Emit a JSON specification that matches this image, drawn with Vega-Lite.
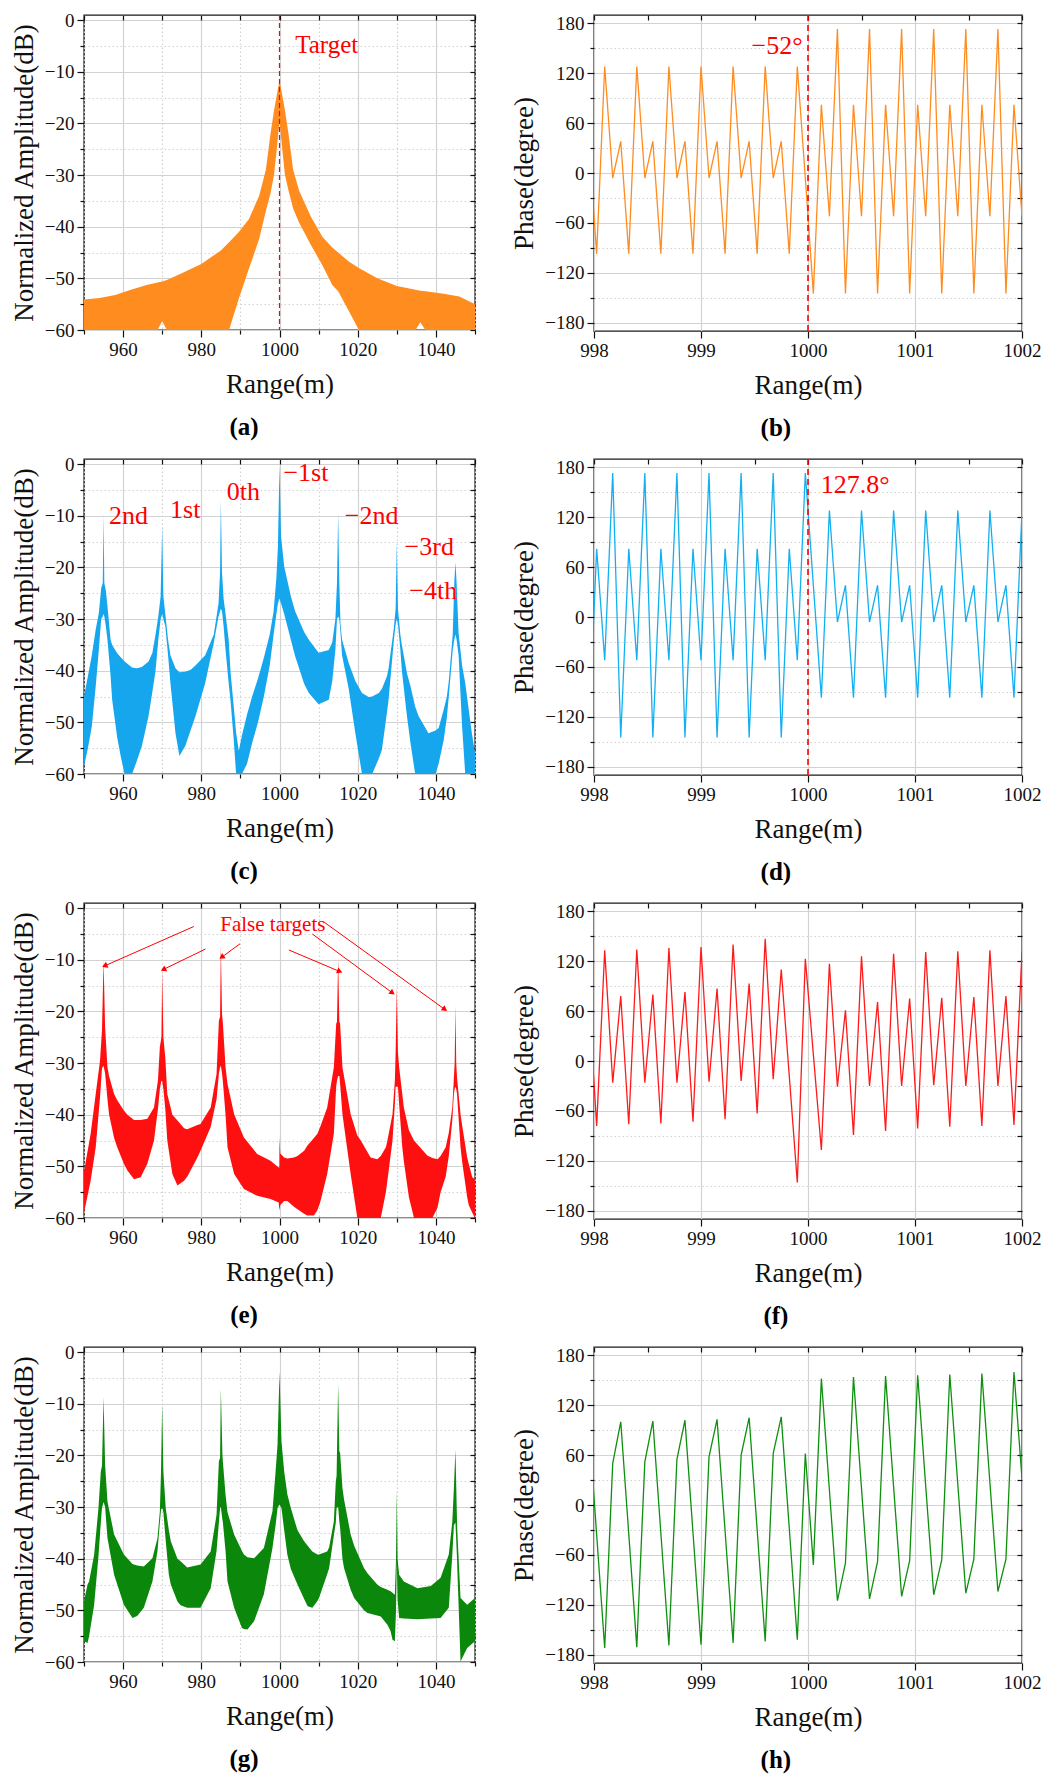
{
  "$schema": "https://vega.github.io/schema/vega-lite/v6.json",
  "background": "white",
  "padding": {"left": 9, "top": 10, "right": 0, "bottom": 0},
  "config": {
    "font": "Liberation Serif",
    "view": {"stroke": "#1a1a1a", "strokeWidth": 1.4},
    "style": {
      "guide-label": {"font": "Liberation Serif", "fontSize": 19, "fill": "#111"},
      "guide-title": {"font": "Liberation Serif", "fontSize": 27, "fill": "#111"}
    },
    "axis": {
      "labelFont": "Liberation Serif", "titleFont": "Liberation Serif",
      "labelFontSize": 19, "titleFontSize": 27, "titleFontWeight": "normal",
      "labelColor": "#111", "titleColor": "#111", "tickColor": "#111", "tickWidth": 1.2,
      "domain": false, "gridColor": "#d2d2d2", "gridWidth": 1.2,
      "labelOverlap": false, "labelFlush": false, "labelPadding": 3
    },
    "axisX": {"titlePadding": 12, "labelFont": "Liberation Serif"},
    "axisY": {"titlePadding": 6, "labelFont": "Liberation Serif"},
    "title": {"font": "Liberation Serif", "fontSize": 25, "fontWeight": "bold", "orient": "bottom", "anchor": "middle", "frame": "bounds", "offset": 18, "color": "#000"},
    "text": {"font": "Liberation Serif", "color": "#ff0000"}
  },
  "datasets": {
    "ampA": [
      {"x": 950, "hi": -54.1, "lo": -60}, {"x": 954, "hi": -53.8, "lo": -60}, {"x": 958, "hi": -53.2, "lo": -60},
      {"x": 962, "hi": -52.2, "lo": -60}, {"x": 966, "hi": -51.3, "lo": -60}, {"x": 968.8, "hi": -50.8, "lo": -60},
      {"x": 970, "hi": -50.6, "lo": -58.3}, {"x": 971.2, "hi": -50.3, "lo": -60}, {"x": 975, "hi": -49, "lo": -60},
      {"x": 980, "hi": -47.2, "lo": -60}, {"x": 985, "hi": -44.6, "lo": -60}, {"x": 987.1, "hi": -43, "lo": -60},
      {"x": 989.6, "hi": -41, "lo": -53.9}, {"x": 992.2, "hi": -38.5, "lo": -48.1}, {"x": 994.8, "hi": -34, "lo": -42.4},
      {"x": 996.5, "hi": -29, "lo": -37}, {"x": 997.7, "hi": -22, "lo": -33.5}, {"x": 998.6, "hi": -17.5, "lo": -30},
      {"x": 999.3, "hi": -14.5, "lo": -25}, {"x": 999.8, "hi": -12.5, "lo": -21}, {"x": 1000, "hi": -12, "lo": -20},
      {"x": 1000.2, "hi": -12.5, "lo": -21}, {"x": 1000.7, "hi": -14.5, "lo": -25}, {"x": 1001.4, "hi": -17.5, "lo": -30},
      {"x": 1002.3, "hi": -22, "lo": -33}, {"x": 1003.5, "hi": -29, "lo": -36.5}, {"x": 1005, "hi": -33, "lo": -39.2},
      {"x": 1008, "hi": -38, "lo": -43.5}, {"x": 1011, "hi": -42, "lo": -47.5}, {"x": 1013.5, "hi": -44, "lo": -51.3},
      {"x": 1015, "hi": -45, "lo": -52.5}, {"x": 1017.8, "hi": -46.8, "lo": -56.4}, {"x": 1020.3, "hi": -48, "lo": -60},
      {"x": 1025, "hi": -50, "lo": -60}, {"x": 1030, "hi": -51.5, "lo": -60}, {"x": 1034.8, "hi": -52.2, "lo": -60},
      {"x": 1036, "hi": -52.4, "lo": -58.5}, {"x": 1037.3, "hi": -52.5, "lo": -60}, {"x": 1042, "hi": -53, "lo": -60},
      {"x": 1046, "hi": -53.5, "lo": -60}, {"x": 1050, "hi": -55, "lo": -60}
    ],
    "ampC": [
      {"x": 950, "hi": -45, "lo": -58.5}, {"x": 951, "hi": -41, "lo": -55}, {"x": 952, "hi": -37, "lo": -50.8},
      {"x": 953, "hi": -32, "lo": -43}, {"x": 953.8, "hi": -28.8, "lo": -35.9}, {"x": 954.4, "hi": -24, "lo": -30},
      {"x": 954.8, "hi": -23, "lo": -29.5}, {"x": 955, "hi": -9.8, "lo": -29}, {"x": 955.2, "hi": -23, "lo": -29.5},
      {"x": 955.6, "hi": -24.5, "lo": -31.5}, {"x": 956, "hi": -27.5, "lo": -34}, {"x": 956.8, "hi": -34, "lo": -41},
      {"x": 957.2, "hi": -35, "lo": -45.6}, {"x": 958.5, "hi": -36.6, "lo": -53}, {"x": 959.5, "hi": -37.5, "lo": -57},
      {"x": 960.4, "hi": -38.2, "lo": -60}, {"x": 962.3, "hi": -39.4, "lo": -60}, {"x": 963.5, "hi": -39.5, "lo": -57.5},
      {"x": 964.8, "hi": -39.3, "lo": -54.6}, {"x": 966.5, "hi": -38.2, "lo": -48.8}, {"x": 967.5, "hi": -36.5, "lo": -44},
      {"x": 968.3, "hi": -33, "lo": -40}, {"x": 969, "hi": -29.5, "lo": -34}, {"x": 969.6, "hi": -25.6, "lo": -30},
      {"x": 970, "hi": -12.1, "lo": -29}, {"x": 970.3, "hi": -25.6, "lo": -30}, {"x": 970.8, "hi": -29, "lo": -31.4},
      {"x": 971.5, "hi": -34, "lo": -37}, {"x": 972.1, "hi": -37, "lo": -42.4}, {"x": 973.4, "hi": -39.5, "lo": -52.1},
      {"x": 974.4, "hi": -40.3, "lo": -56.5}, {"x": 975.9, "hi": -40.2, "lo": -54.6}, {"x": 977.3, "hi": -39.8, "lo": -51.5},
      {"x": 978.5, "hi": -39, "lo": -48.8}, {"x": 981, "hi": -37, "lo": -42.4}, {"x": 983.2, "hi": -33, "lo": -34.6},
      {"x": 984.4, "hi": -27, "lo": -29.5}, {"x": 984.8, "hi": -21, "lo": -28.5}, {"x": 985, "hi": -7.1, "lo": -28},
      {"x": 985.3, "hi": -21, "lo": -28.5}, {"x": 985.7, "hi": -26, "lo": -31.4}, {"x": 986.2, "hi": -29, "lo": -36},
      {"x": 987, "hi": -34, "lo": -42.4}, {"x": 987.5, "hi": -40.5, "lo": -46}, {"x": 988.3, "hi": -47, "lo": -53.4},
      {"x": 988.9, "hi": -52, "lo": -60}, {"x": 989.6, "hi": -55.5, "lo": -60}, {"x": 990.4, "hi": -52.5, "lo": -60},
      {"x": 991.7, "hi": -48.5, "lo": -58}, {"x": 993, "hi": -45, "lo": -54}, {"x": 994.5, "hi": -41.5, "lo": -50},
      {"x": 996, "hi": -37.5, "lo": -45}, {"x": 997.5, "hi": -33, "lo": -39}, {"x": 998.5, "hi": -28.5, "lo": -33},
      {"x": 999.2, "hi": -22, "lo": -29}, {"x": 999.6, "hi": -16, "lo": -27}, {"x": 1000, "hi": 0, "lo": -26},
      {"x": 1000.4, "hi": -14, "lo": -27}, {"x": 1001.2, "hi": -19.8, "lo": -29}, {"x": 1002.9, "hi": -25.6, "lo": -34},
      {"x": 1004, "hi": -28.5, "lo": -37.2}, {"x": 1006.3, "hi": -32.5, "lo": -42.5}, {"x": 1007.5, "hi": -34, "lo": -44.3},
      {"x": 1010, "hi": -36.5, "lo": -46.5}, {"x": 1012.6, "hi": -36, "lo": -45.6}, {"x": 1013.5, "hi": -34.5, "lo": -42},
      {"x": 1014.3, "hi": -30, "lo": -35.9}, {"x": 1014.7, "hi": -23, "lo": -30}, {"x": 1015, "hi": -9.6, "lo": -29.5},
      {"x": 1015.3, "hi": -23, "lo": -30}, {"x": 1015.6, "hi": -31, "lo": -32.7}, {"x": 1016, "hi": -34, "lo": -37},
      {"x": 1017.7, "hi": -38.5, "lo": -43.5}, {"x": 1019.4, "hi": -42, "lo": -52.1}, {"x": 1021.1, "hi": -44.3, "lo": -60},
      {"x": 1022.8, "hi": -45.1, "lo": -60}, {"x": 1023.7, "hi": -45, "lo": -60}, {"x": 1025.4, "hi": -44.3, "lo": -57},
      {"x": 1026.2, "hi": -43.5, "lo": -55.3}, {"x": 1027.5, "hi": -41, "lo": -48}, {"x": 1027.9, "hi": -39.5, "lo": -45.6},
      {"x": 1029.2, "hi": -32, "lo": -34.5}, {"x": 1029.7, "hi": -28, "lo": -31}, {"x": 1030, "hi": -15.1, "lo": -30},
      {"x": 1030.3, "hi": -28, "lo": -31}, {"x": 1030.9, "hi": -33, "lo": -35.9}, {"x": 1031.3, "hi": -35, "lo": -40},
      {"x": 1032.6, "hi": -40.5, "lo": -48.8}, {"x": 1033.5, "hi": -43, "lo": -54}, {"x": 1034.7, "hi": -47, "lo": -60},
      {"x": 1035.6, "hi": -48.8, "lo": -60}, {"x": 1038.1, "hi": -52.1, "lo": -60}, {"x": 1039.9, "hi": -51.6, "lo": -60},
      {"x": 1040.7, "hi": -51.1, "lo": -58}, {"x": 1042, "hi": -47.5, "lo": -53.4}, {"x": 1042.8, "hi": -45, "lo": -49},
      {"x": 1043.3, "hi": -42, "lo": -45}, {"x": 1044.3, "hi": -33, "lo": -36}, {"x": 1044.7, "hi": -23, "lo": -34},
      {"x": 1045, "hi": -19, "lo": -33}, {"x": 1045.3, "hi": -23, "lo": -34}, {"x": 1045.8, "hi": -32.7, "lo": -37},
      {"x": 1046.7, "hi": -39, "lo": -50.8}, {"x": 1047.5, "hi": -42.4, "lo": -60}, {"x": 1049.2, "hi": -52.1, "lo": -60},
      {"x": 1050, "hi": -56, "lo": -60}
    ],
    "ampE": [
      {"x": 950, "hi": -51, "lo": -59}, {"x": 951.7, "hi": -43.7, "lo": -52.8}, {"x": 953, "hi": -36, "lo": -46.3},
      {"x": 954.1, "hi": -29.5, "lo": -36.6}, {"x": 954.6, "hi": -23.7, "lo": -31}, {"x": 955, "hi": -10.1, "lo": -30.5},
      {"x": 955.4, "hi": -23.1, "lo": -32}, {"x": 956, "hi": -30.8, "lo": -37}, {"x": 956.4, "hi": -32.5, "lo": -39.9},
      {"x": 957.7, "hi": -36, "lo": -44.5}, {"x": 958.5, "hi": -37.2, "lo": -46.3}, {"x": 960.2, "hi": -39.2, "lo": -49.5},
      {"x": 961.1, "hi": -40, "lo": -50.8}, {"x": 962.8, "hi": -41, "lo": -52.5}, {"x": 964.5, "hi": -41, "lo": -52.1},
      {"x": 966.2, "hi": -40.8, "lo": -49.5}, {"x": 967.9, "hi": -38.6, "lo": -45}, {"x": 968.9, "hi": -33.4, "lo": -39},
      {"x": 969.4, "hi": -26.9, "lo": -35}, {"x": 969.8, "hi": -25, "lo": -33.4}, {"x": 970, "hi": -12.1, "lo": -33.5},
      {"x": 970.3, "hi": -25, "lo": -35}, {"x": 970.8, "hi": -29, "lo": -39}, {"x": 971.3, "hi": -36, "lo": -45},
      {"x": 972.6, "hi": -40, "lo": -51.5}, {"x": 973.9, "hi": -41.1, "lo": -53.7}, {"x": 975.6, "hi": -42.6, "lo": -52.8},
      {"x": 976.4, "hi": -42.8, "lo": -52}, {"x": 979, "hi": -42, "lo": -48.3}, {"x": 979.8, "hi": -41.8, "lo": -47},
      {"x": 982.4, "hi": -38.6, "lo": -42.4}, {"x": 983.9, "hi": -32.1, "lo": -37}, {"x": 984.5, "hi": -21.8, "lo": -32},
      {"x": 984.8, "hi": -21, "lo": -30.8}, {"x": 985, "hi": -7.2, "lo": -30.5}, {"x": 985.3, "hi": -20.5, "lo": -32},
      {"x": 985.5, "hi": -22, "lo": -33.4}, {"x": 986.2, "hi": -30.8, "lo": -40}, {"x": 986.7, "hi": -34, "lo": -46.3},
      {"x": 988.4, "hi": -39.9, "lo": -51.5}, {"x": 990.9, "hi": -44.4, "lo": -54.4}, {"x": 994.3, "hi": -47.6, "lo": -55.7},
      {"x": 997.7, "hi": -48.9, "lo": -56.3}, {"x": 999.8, "hi": -50.2, "lo": -57}, {"x": 999.95, "hi": -50.2, "lo": -58.5},
      {"x": 1000, "hi": -44.3, "lo": -58.3}, {"x": 1000.2, "hi": -47.5, "lo": -57.5}, {"x": 1001.2, "hi": -48.3, "lo": -56.7},
      {"x": 1002, "hi": -48.5, "lo": -56.7}, {"x": 1003.7, "hi": -48.3, "lo": -57.8}, {"x": 1004.6, "hi": -48, "lo": -58.3},
      {"x": 1006.3, "hi": -47, "lo": -59.2}, {"x": 1007.1, "hi": -46, "lo": -59.5}, {"x": 1008.8, "hi": -44.5, "lo": -59.5},
      {"x": 1009.7, "hi": -43.7, "lo": -58.5}, {"x": 1010.5, "hi": -42.2, "lo": -56.7}, {"x": 1012.2, "hi": -38.6, "lo": -51.5},
      {"x": 1013.9, "hi": -30.8, "lo": -43.7}, {"x": 1014.5, "hi": -22.4, "lo": -34.5}, {"x": 1014.7, "hi": -22, "lo": -33.4},
      {"x": 1015, "hi": -9.7, "lo": -32.5}, {"x": 1015.3, "hi": -22, "lo": -32.5}, {"x": 1015.5, "hi": -22.4, "lo": -34},
      {"x": 1016.1, "hi": -30.8, "lo": -39.9}, {"x": 1018.2, "hi": -39.9, "lo": -51.5}, {"x": 1019.9, "hi": -44, "lo": -60},
      {"x": 1020.8, "hi": -45, "lo": -60}, {"x": 1023.3, "hi": -48.3, "lo": -60}, {"x": 1025, "hi": -48.6, "lo": -60},
      {"x": 1025.9, "hi": -48, "lo": -60}, {"x": 1027.2, "hi": -46.3, "lo": -55}, {"x": 1027.6, "hi": -45, "lo": -52.8},
      {"x": 1028.9, "hi": -39.9, "lo": -45}, {"x": 1029.5, "hi": -33.4, "lo": -38}, {"x": 1029.7, "hi": -28, "lo": -34.6},
      {"x": 1030, "hi": -15.2, "lo": -34.6}, {"x": 1030.3, "hi": -28, "lo": -34.6}, {"x": 1030.6, "hi": -30.8, "lo": -38},
      {"x": 1031.4, "hi": -36, "lo": -46.3}, {"x": 1031.8, "hi": -38.6, "lo": -49}, {"x": 1033.1, "hi": -43, "lo": -56},
      {"x": 1034.4, "hi": -45, "lo": -60}, {"x": 1037.8, "hi": -47.9, "lo": -60}, {"x": 1039.1, "hi": -48.4, "lo": -60},
      {"x": 1040.4, "hi": -48.6, "lo": -58}, {"x": 1041.2, "hi": -48, "lo": -55}, {"x": 1042.5, "hi": -46.3, "lo": -52},
      {"x": 1043.3, "hi": -43.5, "lo": -48}, {"x": 1044.2, "hi": -38.6, "lo": -41}, {"x": 1044.6, "hi": -32.8, "lo": -36},
      {"x": 1044.8, "hi": -30, "lo": -35}, {"x": 1045, "hi": -18.9, "lo": -34.6}, {"x": 1045.2, "hi": -30, "lo": -35},
      {"x": 1045.4, "hi": -32.8, "lo": -36}, {"x": 1046.3, "hi": -39.9, "lo": -46.3}, {"x": 1046.7, "hi": -42, "lo": -49},
      {"x": 1048, "hi": -48.3, "lo": -56}, {"x": 1048.4, "hi": -49.5, "lo": -57.5}, {"x": 1049.3, "hi": -52.1, "lo": -59},
      {"x": 1050, "hi": -52.5, "lo": -60}
    ],
    "ampG": [
      {"x": 950, "hi": -48.3, "lo": -56}, {"x": 950.9, "hi": -45, "lo": -56.3}, {"x": 951.3, "hi": -44.4, "lo": -55},
      {"x": 952.6, "hi": -39.2, "lo": -48.9}, {"x": 953.7, "hi": -30.2, "lo": -39.5}, {"x": 954.3, "hi": -23.1, "lo": -33},
      {"x": 954.6, "hi": -22, "lo": -30.2}, {"x": 955, "hi": -8.7, "lo": -29}, {"x": 955.4, "hi": -21.8, "lo": -30},
      {"x": 956, "hi": -28.9, "lo": -36}, {"x": 957.7, "hi": -35.3, "lo": -43.1}, {"x": 960.2, "hi": -39.2, "lo": -48.9},
      {"x": 962.4, "hi": -41, "lo": -51.5}, {"x": 963.6, "hi": -41.3, "lo": -51.1}, {"x": 965.3, "hi": -41.5, "lo": -49.5},
      {"x": 967.5, "hi": -39.9, "lo": -44.4}, {"x": 968.8, "hi": -36, "lo": -38.5}, {"x": 969.4, "hi": -30.8, "lo": -33},
      {"x": 969.7, "hi": -23.1, "lo": -30.5}, {"x": 970, "hi": -10, "lo": -30.2}, {"x": 970.3, "hi": -23.1, "lo": -31},
      {"x": 970.9, "hi": -30.2, "lo": -36.5}, {"x": 971.7, "hi": -34.5, "lo": -43.1}, {"x": 972.2, "hi": -36.6, "lo": -45},
      {"x": 973.9, "hi": -40, "lo": -48.3}, {"x": 974.7, "hi": -40.5, "lo": -49}, {"x": 976.4, "hi": -41.7, "lo": -49.5},
      {"x": 979.8, "hi": -41.1, "lo": -49.5}, {"x": 982.4, "hi": -38.6, "lo": -45.7}, {"x": 983.9, "hi": -31.5, "lo": -38.5},
      {"x": 984.5, "hi": -21.1, "lo": -33}, {"x": 984.8, "hi": -20.5, "lo": -30.2}, {"x": 985, "hi": -7.1, "lo": -30},
      {"x": 985.4, "hi": -19.8, "lo": -32.5}, {"x": 985.5, "hi": -21, "lo": -32.8}, {"x": 986.2, "hi": -27.6, "lo": -38.5},
      {"x": 986.7, "hi": -31, "lo": -44.4}, {"x": 988.4, "hi": -35.3, "lo": -49.5}, {"x": 990.4, "hi": -38.5, "lo": -53.4},
      {"x": 990.9, "hi": -39.2, "lo": -53.6}, {"x": 991.8, "hi": -39.7, "lo": -53.7}, {"x": 993.5, "hi": -39.9, "lo": -52.1},
      {"x": 996, "hi": -37.9, "lo": -46.9}, {"x": 998.2, "hi": -30.8, "lo": -37.9}, {"x": 999, "hi": -23.1, "lo": -33.5},
      {"x": 999.5, "hi": -17.9, "lo": -30.2}, {"x": 1000, "hi": -3.8, "lo": -29.5}, {"x": 1000.5, "hi": -17.2, "lo": -30.2},
      {"x": 1001.2, "hi": -23.1, "lo": -34.5}, {"x": 1002, "hi": -27.5, "lo": -39.2}, {"x": 1002.9, "hi": -30.2, "lo": -42},
      {"x": 1004.6, "hi": -34.5, "lo": -45}, {"x": 1006.3, "hi": -36.6, "lo": -47.8}, {"x": 1007.2, "hi": -37.5, "lo": -49.2},
      {"x": 1008.4, "hi": -38.6, "lo": -49.5}, {"x": 1009.7, "hi": -39.2, "lo": -48.2}, {"x": 1010.1, "hi": -39.2, "lo": -47.6},
      {"x": 1012.2, "hi": -38.6, "lo": -43}, {"x": 1012.7, "hi": -37.8, "lo": -41.8}, {"x": 1013.9, "hi": -32.8, "lo": -35.5},
      {"x": 1014.4, "hi": -25, "lo": -33}, {"x": 1014.6, "hi": -24, "lo": -30.2}, {"x": 1015, "hi": -6.1, "lo": -30},
      {"x": 1015.3, "hi": -19.2, "lo": -32.8}, {"x": 1015.5, "hi": -19.5, "lo": -34}, {"x": 1016.1, "hi": -26.3, "lo": -40},
      {"x": 1016.5, "hi": -28.5, "lo": -41.8}, {"x": 1018.2, "hi": -35.3, "lo": -46}, {"x": 1019.1, "hi": -37.5, "lo": -47.6},
      {"x": 1021.6, "hi": -41.8, "lo": -50}, {"x": 1022.5, "hi": -42.8, "lo": -50.5}, {"x": 1025, "hi": -45, "lo": -51},
      {"x": 1025.9, "hi": -45.5, "lo": -51.2}, {"x": 1027.6, "hi": -46, "lo": -52.8}, {"x": 1028.4, "hi": -46.3, "lo": -54},
      {"x": 1028.9, "hi": -46.6, "lo": -55.7}, {"x": 1029.5, "hi": -47, "lo": -56}, {"x": 1029.8, "hi": -40, "lo": -50},
      {"x": 1030, "hi": -26.6, "lo": -40.5}, {"x": 1030.2, "hi": -40, "lo": -48}, {"x": 1030.6, "hi": -43.1, "lo": -51.5},
      {"x": 1031.8, "hi": -44.4, "lo": -51.6}, {"x": 1035.3, "hi": -45.7, "lo": -51.7}, {"x": 1038.7, "hi": -45.3, "lo": -51.6},
      {"x": 1041.2, "hi": -43.7, "lo": -51.5}, {"x": 1043.3, "hi": -39.2, "lo": -49.5}, {"x": 1044.2, "hi": -32.8, "lo": -39.2},
      {"x": 1044.6, "hi": -26.3, "lo": -33.5}, {"x": 1045, "hi": -18.9, "lo": -33}, {"x": 1045.4, "hi": -32.8, "lo": -40},
      {"x": 1045.5, "hi": -35, "lo": -42.4}, {"x": 1046.3, "hi": -47.6, "lo": -59.9}, {"x": 1048, "hi": -48.9, "lo": -57.3},
      {"x": 1050, "hi": -47.6, "lo": -56}
    ],
    "phase": [
      {"x": 997.95, "b": 38, "d": -145, "f": 77, "h": 100},
      {"x": 998.025, "b": -97, "d": 82, "f": -78, "h": -36},
      {"x": 998.1, "b": 128, "d": -52, "f": 133, "h": -172},
      {"x": 998.175, "b": -6, "d": 173, "f": -26, "h": 50},
      {"x": 998.25, "b": 38, "d": -145, "f": 78, "h": 100},
      {"x": 998.325, "b": -97, "d": 82, "f": -76, "h": -35},
      {"x": 998.4, "b": 128, "d": -52, "f": 134, "h": -171},
      {"x": 998.475, "b": -6, "d": 173, "f": -26, "h": 52},
      {"x": 998.55, "b": 38, "d": -145, "f": 80, "h": 101},
      {"x": 998.625, "b": -97, "d": 82, "f": -75, "h": -34},
      {"x": 998.7, "b": 128, "d": -52, "f": 136, "h": -169},
      {"x": 998.775, "b": -6, "d": 173, "f": -26, "h": 55},
      {"x": 998.85, "b": 38, "d": -145, "f": 83, "h": 102},
      {"x": 998.925, "b": -97, "d": 82, "f": -73, "h": -33},
      {"x": 999.0, "b": 128, "d": -52, "f": 137, "h": -168},
      {"x": 999.075, "b": -6, "d": 173, "f": -25, "h": 58},
      {"x": 999.15, "b": 38, "d": -145, "f": 87, "h": 103},
      {"x": 999.225, "b": -97, "d": 82, "f": -70, "h": -31},
      {"x": 999.3, "b": 128, "d": -52, "f": 140, "h": -166},
      {"x": 999.375, "b": -6, "d": 173, "f": -24, "h": 60},
      {"x": 999.45, "b": 38, "d": -145, "f": 93, "h": 105},
      {"x": 999.525, "b": -97, "d": 82, "f": -63, "h": -30},
      {"x": 999.6, "b": 128, "d": -52, "f": 147, "h": -164},
      {"x": 999.675, "b": -6, "d": 173, "f": -22, "h": 62},
      {"x": 999.75, "b": 38, "d": -145, "f": 110, "h": 106},
      {"x": 999.825, "b": -97, "d": 82, "f": -18, "h": -28},
      {"x": 999.9, "b": 128, "d": -52, "f": -146, "h": -162},
      {"x": 999.975, "b": -6, "d": 173, "f": 123, "h": 62},
      {"x": 1000.05, "b": -145, "d": 38, "f": 8, "h": -72},
      {"x": 1000.125, "b": 82, "d": -97, "f": -107, "h": 152},
      {"x": 1000.2, "b": -52, "d": 128, "f": 117, "h": 18},
      {"x": 1000.275, "b": 173, "d": -6, "f": -31, "h": -115},
      {"x": 1000.35, "b": -145, "d": 38, "f": 61, "h": -70},
      {"x": 1000.425, "b": 82, "d": -97, "f": -89, "h": 154},
      {"x": 1000.5, "b": -52, "d": 128, "f": 126, "h": 20},
      {"x": 1000.575, "b": 173, "d": -6, "f": -30, "h": -113},
      {"x": 1000.65, "b": -145, "d": 38, "f": 71, "h": -68},
      {"x": 1000.725, "b": 82, "d": -97, "f": -84, "h": 155},
      {"x": 1000.8, "b": -52, "d": 128, "f": 129, "h": 22},
      {"x": 1000.875, "b": 173, "d": -6, "f": -30, "h": -110},
      {"x": 1000.95, "b": -145, "d": 38, "f": 75, "h": -67},
      {"x": 1001.025, "b": 82, "d": -97, "f": -81, "h": 156},
      {"x": 1001.1, "b": -52, "d": 128, "f": 131, "h": 23},
      {"x": 1001.175, "b": 173, "d": -6, "f": -29, "h": -108},
      {"x": 1001.25, "b": -145, "d": 38, "f": 76, "h": -66},
      {"x": 1001.325, "b": 82, "d": -97, "f": -79, "h": 157},
      {"x": 1001.4, "b": -52, "d": 128, "f": 132, "h": 25},
      {"x": 1001.475, "b": 173, "d": -6, "f": -30, "h": -106},
      {"x": 1001.55, "b": -145, "d": 38, "f": 77, "h": -65},
      {"x": 1001.625, "b": 82, "d": -97, "f": -78, "h": 158},
      {"x": 1001.7, "b": -52, "d": 128, "f": 133, "h": 27},
      {"x": 1001.775, "b": 173, "d": -6, "f": -30, "h": -104},
      {"x": 1001.85, "b": -145, "d": 38, "f": 78, "h": -65},
      {"x": 1001.925, "b": 82, "d": -97, "f": -77, "h": 160},
      {"x": 1002.0, "b": -52, "d": 128, "f": 132, "h": 32}
    ],
    "labelsC": [
      {"x": 956.4, "y": -10.1, "t": "2nd"},
      {"x": 972, "y": -8.8, "t": "1st"},
      {"x": 986.5, "y": -5.4, "t": "0th"},
      {"x": 1001, "y": -1.7, "t": "−1st"},
      {"x": 1016.7, "y": -10.1, "t": "−2nd"},
      {"x": 1032, "y": -16.1, "t": "−3rd"},
      {"x": 1033.2, "y": -24.6, "t": "−4th"}
    ],
    "arrowsE": [
      {"x": 978.1, "y": -3.55, "x2": 955.5, "y2": -11.1},
      {"x": 981.1, "y": -7.9, "x2": 970.5, "y2": -11.8},
      {"x": 989.9, "y": -6.9, "x2": 985.4, "y2": -9.4},
      {"x": 1002.4, "y": -8.1, "x2": 1015.2, "y2": -12.2},
      {"x": 1008.4, "y": -5.0, "x2": 1028.7, "y2": -16.3},
      {"x": 1011.4, "y": -2.7, "x2": 1042.1, "y2": -19.5}
    ]
  },
  "spacing": 12,
  "vconcat": [
    {
      "spacing": 31,
      "hconcat": [
        {
          "width": 391, "height": 315,
          "title": {"text": "(a)"},
          "resolve": {"axis": {"x": "independent", "y": "independent"}},
          "layer": [
            {
              "data": {"name": "ampA"},
              "mark": {"type": "area", "color": "#ff8c1f", "clip": true},
              "encoding": {
                "x": {"field": "x", "type": "quantitative", "scale": {"domain": [950, 1050], "nice": false, "zero": false},
                      "axis": {"orient": "bottom", "title": "Range(m)", "format": "d", "labelFont": "Liberation Serif", "values": [950, 960, 970, 980, 990, 1000, 1010, 1020, 1030, 1040, 1050],
                               "labelExpr": "datum.value % 20 === 0 ? datum.label : ''",
                               "tickSize": {"condition": {"test": "datum.value % 20 !== 0", "value": 4}, "value": 7},
                               "gridDash": {"condition": {"test": "datum.value % 20 !== 0", "value": [1.5, 2.5]}, "value": []}}},
                "y": {"field": "hi", "type": "quantitative", "scale": {"domain": [-60, 1], "nice": false, "zero": false},
                      "axis": {"orient": "left", "title": "Normalized Amplitude(dB)", "labelFont": "Liberation Serif", "values": [-60, -55, -50, -45, -40, -35, -30, -25, -20, -15, -10, -5, 0],
                               "labelExpr": "datum.value % 10 === 0 ? datum.label : ''",
                               "tickSize": {"condition": {"test": "datum.value % 10 !== 0", "value": 4}, "value": 7},
                               "gridDash": {"condition": {"test": "datum.value % 10 !== 0", "value": [1.5, 2.5]}, "value": []}}},
                "y2": {"field": "lo"}
              }
            },
            {
              "data": {"name": "ampA"},
              "mark": {"type": "point", "opacity": 0},
              "encoding": {
                "x": {"field": "x", "type": "quantitative", "axis": {"orient": "top", "title": null, "labels": false, "grid": false, "tickSize": -5, "values": [950, 960, 970, 980, 990, 1000, 1010, 1020, 1030, 1040, 1050]}},
                "y": {"field": "hi", "type": "quantitative", "axis": {"orient": "right", "title": null, "labels": false, "grid": false, "tickSize": -5, "values": [-60, -55, -50, -45, -40, -35, -30, -25, -20, -15, -10, -5, 0]}}
              }
            },
            {
              "data": {"values": [{"x": 1000}]},
              "mark": {"type": "rule", "color": "#ff0000", "strokeDash": [5, 3], "strokeWidth": 1.2},
              "encoding": {"x": {"field": "x", "type": "quantitative", "axis": null}}
            },
            {
              "data": {"values": [{"x": 1004, "y": -4.8, "t": "Target"}]},
              "mark": {"type": "text", "align": "left", "baseline": "middle", "fontSize": 25},
              "encoding": {
                "x": {"field": "x", "type": "quantitative", "axis": null},
                "y": {"field": "y", "type": "quantitative", "axis": null},
                "text": {"field": "t"}
              }
            }
          ]
        },
        {
          "width": 428, "height": 316,
          "title": {"text": "(b)"},
          "resolve": {"axis": {"x": "independent", "y": "independent"}},
          "layer": [
            {
              "data": {"name": "phase"},
              "mark": {"type": "line", "color": "#ff8c1f", "strokeWidth": 1.3, "clip": true},
              "encoding": {
                "x": {"field": "x", "type": "quantitative", "scale": {"domain": [998, 1002], "nice": false, "zero": false},
                      "axis": {"orient": "bottom", "title": "Range(m)", "format": "d", "labelFont": "Liberation Serif", "values": [998, 998.5, 999, 999.5, 1000, 1000.5, 1001, 1001.5, 1002],
                               "labelExpr": "datum.value % 1 === 0 ? datum.label : ''",
                               "tickSize": {"condition": {"test": "datum.value % 1 !== 0", "value": 4}, "value": 7},
                               "gridDash": {"condition": {"test": "datum.value % 1 !== 0", "value": [1.5, 2.5]}, "value": []}}},
                "y": {"field": "b", "type": "quantitative", "scale": {"domain": [-190, 190], "nice": false, "zero": false},
                      "axis": {"orient": "left", "title": "Phase(degree)", "labelFont": "Liberation Serif", "values": [-180, -150, -120, -90, -60, -30, 0, 30, 60, 90, 120, 150, 180],
                               "labelExpr": "datum.value % 60 === 0 ? datum.label : ''",
                               "tickSize": {"condition": {"test": "datum.value % 60 !== 0", "value": 4}, "value": 7},
                               "gridDash": {"condition": {"test": "datum.value % 60 !== 0", "value": [1.5, 2.5]}, "value": []}}}
              }
            },
            {
              "data": {"name": "phase"},
              "mark": {"type": "point", "opacity": 0},
              "encoding": {
                "x": {"field": "x", "type": "quantitative", "axis": {"orient": "top", "title": null, "labels": false, "grid": false, "tickSize": -5, "values": [998, 998.5, 999, 999.5, 1000, 1000.5, 1001, 1001.5, 1002]}},
                "y": {"field": "b", "type": "quantitative", "axis": {"orient": "right", "title": null, "labels": false, "grid": false, "tickSize": -5, "values": [-180, -150, -120, -90, -60, -30, 0, 30, 60, 90, 120, 150, 180]}}
              }
            },
            {
              "data": {"values": [{"x": 1000}]},
              "mark": {"type": "rule", "color": "#ff0000", "strokeDash": [6, 4], "strokeWidth": 1.6},
              "encoding": {"x": {"field": "x", "type": "quantitative", "axis": null}}
            },
            {
              "data": {"values": [{"x": 999.95, "y": 153, "t": "−52°"}]},
              "mark": {"type": "text", "align": "right", "baseline": "middle", "fontSize": 26},
              "encoding": {
                "x": {"field": "x", "type": "quantitative", "axis": null},
                "y": {"field": "y", "type": "quantitative", "axis": null},
                "text": {"field": "t"}
              }
            }
          ]
        }
      ]
    },
    {
      "spacing": 31,
      "hconcat": [
        {
          "width": 391, "height": 315,
          "title": {"text": "(c)"},
          "resolve": {"axis": {"x": "independent", "y": "independent"}},
          "layer": [
            {
              "data": {"name": "ampC"},
              "mark": {"type": "area", "color": "#16a6ee", "clip": true},
              "encoding": {
                "x": {"field": "x", "type": "quantitative", "scale": {"domain": [950, 1050], "nice": false, "zero": false},
                      "axis": {"orient": "bottom", "title": "Range(m)", "format": "d", "labelFont": "Liberation Serif", "values": [950, 960, 970, 980, 990, 1000, 1010, 1020, 1030, 1040, 1050],
                               "labelExpr": "datum.value % 20 === 0 ? datum.label : ''",
                               "tickSize": {"condition": {"test": "datum.value % 20 !== 0", "value": 4}, "value": 7},
                               "gridDash": {"condition": {"test": "datum.value % 20 !== 0", "value": [1.5, 2.5]}, "value": []}}},
                "y": {"field": "hi", "type": "quantitative", "scale": {"domain": [-60, 1], "nice": false, "zero": false},
                      "axis": {"orient": "left", "title": "Normalized Amplitude(dB)", "labelFont": "Liberation Serif", "values": [-60, -55, -50, -45, -40, -35, -30, -25, -20, -15, -10, -5, 0],
                               "labelExpr": "datum.value % 10 === 0 ? datum.label : ''",
                               "tickSize": {"condition": {"test": "datum.value % 10 !== 0", "value": 4}, "value": 7},
                               "gridDash": {"condition": {"test": "datum.value % 10 !== 0", "value": [1.5, 2.5]}, "value": []}}},
                "y2": {"field": "lo"}
              }
            },
            {
              "data": {"name": "ampC"},
              "mark": {"type": "point", "opacity": 0},
              "encoding": {
                "x": {"field": "x", "type": "quantitative", "axis": {"orient": "top", "title": null, "labels": false, "grid": false, "tickSize": -5, "values": [950, 960, 970, 980, 990, 1000, 1010, 1020, 1030, 1040, 1050]}},
                "y": {"field": "hi", "type": "quantitative", "axis": {"orient": "right", "title": null, "labels": false, "grid": false, "tickSize": -5, "values": [-60, -55, -50, -45, -40, -35, -30, -25, -20, -15, -10, -5, 0]}}
              }
            },
            {
              "data": {"name": "labelsC"},
              "mark": {"type": "text", "align": "left", "baseline": "middle", "fontSize": 26},
              "encoding": {
                "x": {"field": "x", "type": "quantitative", "axis": null},
                "y": {"field": "y", "type": "quantitative", "axis": null},
                "text": {"field": "t"}
              }
            }
          ]
        },
        {
          "width": 428, "height": 316,
          "title": {"text": "(d)"},
          "resolve": {"axis": {"x": "independent", "y": "independent"}},
          "layer": [
            {
              "data": {"name": "phase"},
              "mark": {"type": "line", "color": "#12b0f0", "strokeWidth": 1.3, "clip": true},
              "encoding": {
                "x": {"field": "x", "type": "quantitative", "scale": {"domain": [998, 1002], "nice": false, "zero": false},
                      "axis": {"orient": "bottom", "title": "Range(m)", "format": "d", "labelFont": "Liberation Serif", "values": [998, 998.5, 999, 999.5, 1000, 1000.5, 1001, 1001.5, 1002],
                               "labelExpr": "datum.value % 1 === 0 ? datum.label : ''",
                               "tickSize": {"condition": {"test": "datum.value % 1 !== 0", "value": 4}, "value": 7},
                               "gridDash": {"condition": {"test": "datum.value % 1 !== 0", "value": [1.5, 2.5]}, "value": []}}},
                "y": {"field": "d", "type": "quantitative", "scale": {"domain": [-190, 190], "nice": false, "zero": false},
                      "axis": {"orient": "left", "title": "Phase(degree)", "labelFont": "Liberation Serif", "values": [-180, -150, -120, -90, -60, -30, 0, 30, 60, 90, 120, 150, 180],
                               "labelExpr": "datum.value % 60 === 0 ? datum.label : ''",
                               "tickSize": {"condition": {"test": "datum.value % 60 !== 0", "value": 4}, "value": 7},
                               "gridDash": {"condition": {"test": "datum.value % 60 !== 0", "value": [1.5, 2.5]}, "value": []}}}
              }
            },
            {
              "data": {"name": "phase"},
              "mark": {"type": "point", "opacity": 0},
              "encoding": {
                "x": {"field": "x", "type": "quantitative", "axis": {"orient": "top", "title": null, "labels": false, "grid": false, "tickSize": -5, "values": [998, 998.5, 999, 999.5, 1000, 1000.5, 1001, 1001.5, 1002]}},
                "y": {"field": "d", "type": "quantitative", "axis": {"orient": "right", "title": null, "labels": false, "grid": false, "tickSize": -5, "values": [-180, -150, -120, -90, -60, -30, 0, 30, 60, 90, 120, 150, 180]}}
              }
            },
            {
              "data": {"values": [{"x": 1000}]},
              "mark": {"type": "rule", "color": "#ff0000", "strokeDash": [6, 4], "strokeWidth": 1.6},
              "encoding": {"x": {"field": "x", "type": "quantitative", "axis": null}}
            },
            {
              "data": {"values": [{"x": 1000.12, "y": 159, "t": "127.8°"}]},
              "mark": {"type": "text", "align": "left", "baseline": "middle", "fontSize": 26},
              "encoding": {
                "x": {"field": "x", "type": "quantitative", "axis": null},
                "y": {"field": "y", "type": "quantitative", "axis": null},
                "text": {"field": "t"}
              }
            }
          ]
        }
      ]
    },
    {
      "spacing": 31,
      "hconcat": [
        {
          "width": 391, "height": 315,
          "title": {"text": "(e)"},
          "resolve": {"axis": {"x": "independent", "y": "independent"}},
          "layer": [
            {
              "data": {"name": "ampE"},
              "mark": {"type": "area", "color": "#ff1010", "clip": true},
              "encoding": {
                "x": {"field": "x", "type": "quantitative", "scale": {"domain": [950, 1050], "nice": false, "zero": false},
                      "axis": {"orient": "bottom", "title": "Range(m)", "format": "d", "labelFont": "Liberation Serif", "values": [950, 960, 970, 980, 990, 1000, 1010, 1020, 1030, 1040, 1050],
                               "labelExpr": "datum.value % 20 === 0 ? datum.label : ''",
                               "tickSize": {"condition": {"test": "datum.value % 20 !== 0", "value": 4}, "value": 7},
                               "gridDash": {"condition": {"test": "datum.value % 20 !== 0", "value": [1.5, 2.5]}, "value": []}}},
                "y": {"field": "hi", "type": "quantitative", "scale": {"domain": [-60, 1], "nice": false, "zero": false},
                      "axis": {"orient": "left", "title": "Normalized Amplitude(dB)", "labelFont": "Liberation Serif", "values": [-60, -55, -50, -45, -40, -35, -30, -25, -20, -15, -10, -5, 0],
                               "labelExpr": "datum.value % 10 === 0 ? datum.label : ''",
                               "tickSize": {"condition": {"test": "datum.value % 10 !== 0", "value": 4}, "value": 7},
                               "gridDash": {"condition": {"test": "datum.value % 10 !== 0", "value": [1.5, 2.5]}, "value": []}}},
                "y2": {"field": "lo"}
              }
            },
            {
              "data": {"name": "ampE"},
              "mark": {"type": "point", "opacity": 0},
              "encoding": {
                "x": {"field": "x", "type": "quantitative", "axis": {"orient": "top", "title": null, "labels": false, "grid": false, "tickSize": -5, "values": [950, 960, 970, 980, 990, 1000, 1010, 1020, 1030, 1040, 1050]}},
                "y": {"field": "hi", "type": "quantitative", "axis": {"orient": "right", "title": null, "labels": false, "grid": false, "tickSize": -5, "values": [-60, -55, -50, -45, -40, -35, -30, -25, -20, -15, -10, -5, 0]}}
              }
            },
            {
              "data": {"name": "arrowsE"},
              "mark": {"type": "rule", "color": "#ff0000", "strokeWidth": 1},
              "encoding": {
                "x": {"field": "x", "type": "quantitative", "axis": null},
                "y": {"field": "y", "type": "quantitative", "axis": null},
                "x2": {"field": "x2"},
                "y2": {"field": "y2"}
              }
            },
            {
              "data": {"name": "arrowsE"},
              "transform": [{"calculate": "atan2((datum.x2 - datum.x) * 3.91, (datum.y2 - datum.y) * 5.16) * 180 / PI", "as": "angle"}],
              "mark": {"type": "point", "shape": "triangle", "filled": true, "color": "#ff0000", "opacity": 1, "size": 40},
              "encoding": {
                "x": {"field": "x2", "type": "quantitative", "axis": null},
                "y": {"field": "y2", "type": "quantitative", "axis": null},
                "angle": {"field": "angle", "type": "quantitative", "scale": null}
              }
            },
            {
              "data": {"values": [{"x": 998.3, "y": -3.2, "t": "False targets"}]},
              "mark": {"type": "text", "align": "center", "baseline": "middle", "fontSize": 21},
              "encoding": {
                "x": {"field": "x", "type": "quantitative", "axis": null},
                "y": {"field": "y", "type": "quantitative", "axis": null},
                "text": {"field": "t"}
              }
            }
          ]
        },
        {
          "width": 428, "height": 316,
          "title": {"text": "(f)"},
          "resolve": {"axis": {"x": "independent", "y": "independent"}},
          "layer": [
            {
              "data": {"name": "phase"},
              "mark": {"type": "line", "color": "#ff1a1a", "strokeWidth": 1.3, "clip": true},
              "encoding": {
                "x": {"field": "x", "type": "quantitative", "scale": {"domain": [998, 1002], "nice": false, "zero": false},
                      "axis": {"orient": "bottom", "title": "Range(m)", "format": "d", "labelFont": "Liberation Serif", "values": [998, 998.5, 999, 999.5, 1000, 1000.5, 1001, 1001.5, 1002],
                               "labelExpr": "datum.value % 1 === 0 ? datum.label : ''",
                               "tickSize": {"condition": {"test": "datum.value % 1 !== 0", "value": 4}, "value": 7},
                               "gridDash": {"condition": {"test": "datum.value % 1 !== 0", "value": [1.5, 2.5]}, "value": []}}},
                "y": {"field": "f", "type": "quantitative", "scale": {"domain": [-190, 190], "nice": false, "zero": false},
                      "axis": {"orient": "left", "title": "Phase(degree)", "labelFont": "Liberation Serif", "values": [-180, -150, -120, -90, -60, -30, 0, 30, 60, 90, 120, 150, 180],
                               "labelExpr": "datum.value % 60 === 0 ? datum.label : ''",
                               "tickSize": {"condition": {"test": "datum.value % 60 !== 0", "value": 4}, "value": 7},
                               "gridDash": {"condition": {"test": "datum.value % 60 !== 0", "value": [1.5, 2.5]}, "value": []}}}
              }
            },
            {
              "data": {"name": "phase"},
              "mark": {"type": "point", "opacity": 0},
              "encoding": {
                "x": {"field": "x", "type": "quantitative", "axis": {"orient": "top", "title": null, "labels": false, "grid": false, "tickSize": -5, "values": [998, 998.5, 999, 999.5, 1000, 1000.5, 1001, 1001.5, 1002]}},
                "y": {"field": "f", "type": "quantitative", "axis": {"orient": "right", "title": null, "labels": false, "grid": false, "tickSize": -5, "values": [-180, -150, -120, -90, -60, -30, 0, 30, 60, 90, 120, 150, 180]}}
              }
            }
          ]
        }
      ]
    },
    {
      "spacing": 31,
      "hconcat": [
        {
          "width": 391, "height": 315,
          "title": {"text": "(g)"},
          "resolve": {"axis": {"x": "independent", "y": "independent"}},
          "layer": [
            {
              "data": {"name": "ampG"},
              "mark": {"type": "area", "color": "#0b870b", "clip": true},
              "encoding": {
                "x": {"field": "x", "type": "quantitative", "scale": {"domain": [950, 1050], "nice": false, "zero": false},
                      "axis": {"orient": "bottom", "title": "Range(m)", "format": "d", "labelFont": "Liberation Serif", "values": [950, 960, 970, 980, 990, 1000, 1010, 1020, 1030, 1040, 1050],
                               "labelExpr": "datum.value % 20 === 0 ? datum.label : ''",
                               "tickSize": {"condition": {"test": "datum.value % 20 !== 0", "value": 4}, "value": 7},
                               "gridDash": {"condition": {"test": "datum.value % 20 !== 0", "value": [1.5, 2.5]}, "value": []}}},
                "y": {"field": "hi", "type": "quantitative", "scale": {"domain": [-60, 1], "nice": false, "zero": false},
                      "axis": {"orient": "left", "title": "Normalized Amplitude(dB)", "labelFont": "Liberation Serif", "values": [-60, -55, -50, -45, -40, -35, -30, -25, -20, -15, -10, -5, 0],
                               "labelExpr": "datum.value % 10 === 0 ? datum.label : ''",
                               "tickSize": {"condition": {"test": "datum.value % 10 !== 0", "value": 4}, "value": 7},
                               "gridDash": {"condition": {"test": "datum.value % 10 !== 0", "value": [1.5, 2.5]}, "value": []}}},
                "y2": {"field": "lo"}
              }
            },
            {
              "data": {"name": "ampG"},
              "mark": {"type": "point", "opacity": 0},
              "encoding": {
                "x": {"field": "x", "type": "quantitative", "axis": {"orient": "top", "title": null, "labels": false, "grid": false, "tickSize": -5, "values": [950, 960, 970, 980, 990, 1000, 1010, 1020, 1030, 1040, 1050]}},
                "y": {"field": "hi", "type": "quantitative", "axis": {"orient": "right", "title": null, "labels": false, "grid": false, "tickSize": -5, "values": [-60, -55, -50, -45, -40, -35, -30, -25, -20, -15, -10, -5, 0]}}
              }
            }
          ]
        },
        {
          "width": 428, "height": 316,
          "title": {"text": "(h)"},
          "resolve": {"axis": {"x": "independent", "y": "independent"}},
          "layer": [
            {
              "data": {"name": "phase"},
              "mark": {"type": "line", "color": "#0e900e", "strokeWidth": 1.3, "clip": true},
              "encoding": {
                "x": {"field": "x", "type": "quantitative", "scale": {"domain": [998, 1002], "nice": false, "zero": false},
                      "axis": {"orient": "bottom", "title": "Range(m)", "format": "d", "labelFont": "Liberation Serif", "values": [998, 998.5, 999, 999.5, 1000, 1000.5, 1001, 1001.5, 1002],
                               "labelExpr": "datum.value % 1 === 0 ? datum.label : ''",
                               "tickSize": {"condition": {"test": "datum.value % 1 !== 0", "value": 4}, "value": 7},
                               "gridDash": {"condition": {"test": "datum.value % 1 !== 0", "value": [1.5, 2.5]}, "value": []}}},
                "y": {"field": "h", "type": "quantitative", "scale": {"domain": [-190, 190], "nice": false, "zero": false},
                      "axis": {"orient": "left", "title": "Phase(degree)", "labelFont": "Liberation Serif", "values": [-180, -150, -120, -90, -60, -30, 0, 30, 60, 90, 120, 150, 180],
                               "labelExpr": "datum.value % 60 === 0 ? datum.label : ''",
                               "tickSize": {"condition": {"test": "datum.value % 60 !== 0", "value": 4}, "value": 7},
                               "gridDash": {"condition": {"test": "datum.value % 60 !== 0", "value": [1.5, 2.5]}, "value": []}}}
              }
            },
            {
              "data": {"name": "phase"},
              "mark": {"type": "point", "opacity": 0},
              "encoding": {
                "x": {"field": "x", "type": "quantitative", "axis": {"orient": "top", "title": null, "labels": false, "grid": false, "tickSize": -5, "values": [998, 998.5, 999, 999.5, 1000, 1000.5, 1001, 1001.5, 1002]}},
                "y": {"field": "h", "type": "quantitative", "axis": {"orient": "right", "title": null, "labels": false, "grid": false, "tickSize": -5, "values": [-180, -150, -120, -90, -60, -30, 0, 30, 60, 90, 120, 150, 180]}}
              }
            }
          ]
        }
      ]
    }
  ]
}
